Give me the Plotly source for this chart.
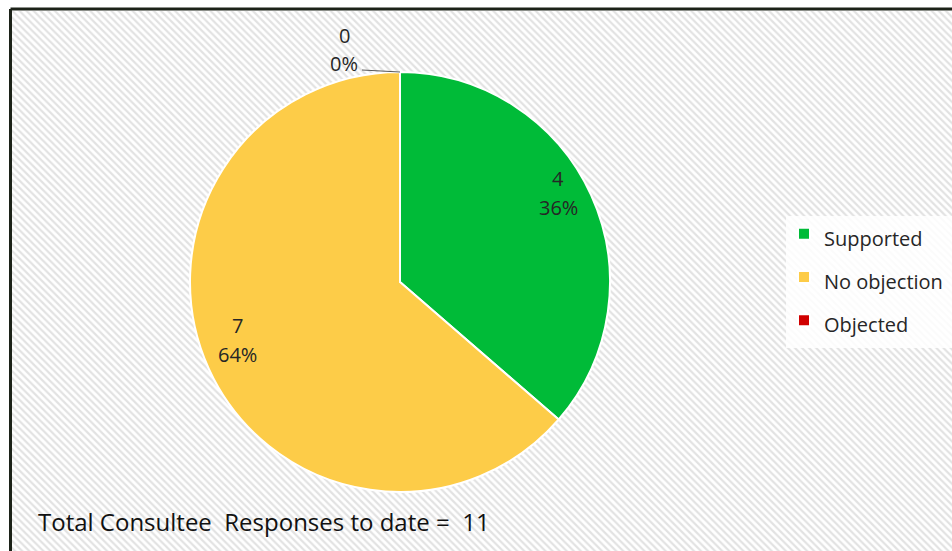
import math
import plotly.graph_objects as go

# ---- data ----
labels = ["Supported", "No objection", "Objected"]
values = [4, 7, 0]
colors = ["#00bb38", "#fdcc48", "#d00000"]
footer_prefix = "Total Consultee  Responses to date =  "

# ---- layout constants ----
W, H = 952, 551
CX, CY, R = 400, 282, 210
FONT = "Open Sans"
TXT = "#262626"

total = sum(values)
pct = [round(v / total * 100) for v in values]

def px_to_paper(px, py):
    return px / W, 1 - py / H

dom_x = [(CX - R) / W, (CX + R) / W]
dom_y = [1 - (CY + R) / H, 1 - (CY - R) / H]

fig = go.Figure()

# hatched background panel (decoration)
fig.add_trace(go.Bar(
    x=[0], y=[1], width=[1], xaxis="x", yaxis="y",
    marker=dict(color="white", line=dict(width=0),
                pattern=dict(shape="\\", fgcolor="#c6c6c6", bgcolor="white",
                             size=5, solidity=0.45)),
    showlegend=False, hoverinfo="skip",
))

fig.add_trace(go.Pie(
    labels=[f"<span style='font-size:20px'>{l}</span>" for l in labels],
    values=values, sort=False, direction="clockwise",
    rotation=0, marker=dict(colors=colors, line=dict(color="white", width=2)),
    textinfo="none", domain=dict(x=dom_x, y=dom_y),
    hovertemplate="%{value} (%{percent})<extra></extra>",
))

annotations = []
cum = 0
for lab, v, p in zip(labels, values, pct):
    start = cum / total * 360
    cum += v
    end = cum / total * 360
    if v > 0:
        mid = math.radians((start + end) / 2)
        rr = 0.84 * R
        ax_, ay_ = px_to_paper(CX + rr * math.sin(mid), CY - rr * math.cos(mid))
        for txt, ys in ((str(v), 30), (f"{p}%", 1)):
            annotations.append(dict(x=ax_, y=ay_, xref="paper", yref="paper",
                                    text=txt, showarrow=False, yshift=ys,
                                    xshift=-2, xanchor="center", yanchor="middle",
                                    font=dict(family=FONT, size=20, color=TXT)))
    else:
        ang = math.radians(start)
        tx, ty = px_to_paper(CX + R * math.sin(ang), CY - R * math.cos(ang))
        # leader line
        annotations.append(dict(x=tx, y=ty, xref="paper", yref="paper",
                                text=" ", showarrow=True, arrowhead=0,
                                arrowwidth=1, arrowcolor="#595959",
                                ax=-38, ay=-2, xanchor="right", yanchor="middle",
                                font=dict(family=FONT, size=1, color=TXT)))
        annotations.append(dict(x=tx, y=ty, xref="paper", yref="paper",
                                text=f"{p}%", showarrow=False,
                                xshift=-56, yshift=9, xanchor="center",
                                yanchor="middle",
                                font=dict(family=FONT, size=20, color=TXT)))
        annotations.append(dict(x=tx, y=ty, xref="paper", yref="paper",
                                text=str(v), showarrow=False,
                                xshift=-55, yshift=37, xanchor="center",
                                yanchor="middle",
                                font=dict(family=FONT, size=20, color=TXT)))

annotations.append(dict(x=36 / W, y=1 - 521 / H, xref="paper", yref="paper",
                        xanchor="left", yanchor="middle", showarrow=False,
                        text=f"{footer_prefix}{total}",
                        font=dict(family=FONT, size=24, color="#111111")))

shapes = [
    dict(type="rect", xref="paper", yref="paper", x0=786 / W, x1=1,
         y0=1 - 348 / H, y1=1 - 216 / H, fillcolor="rgba(255,255,255,0.85)",
         line=dict(width=0), layer="above"),
    dict(type="line", xref="paper", yref="paper", x0=10.5 / W, x1=1,
         y0=1 - 9 / H, y1=1 - 9 / H, line=dict(color="#1c2218", width=3)),
    dict(type="line", xref="paper", yref="paper", x0=10.5 / W, x1=10.5 / W,
         y0=0, y1=1 - 9 / H, line=dict(color="#1c2218", width=3)),
]

fig.update_layout(
    width=W, height=H, margin=dict(l=0, r=0, t=0, b=0),
    paper_bgcolor="white", plot_bgcolor="rgba(0,0,0,0)",
    xaxis=dict(domain=[12 / W, 1], range=[-0.5, 0.5], visible=False, fixedrange=True),
    yaxis=dict(domain=[0, 1 - 10.5 / H], range=[0, 1], visible=False, fixedrange=True),
    bargap=0,
    showlegend=True,
    legend=dict(x=784 / W, y=1 - 207 / H, xanchor="left", yanchor="top",
                bgcolor="rgba(0,0,0,0)", font=dict(family=FONT, size=31, color=TXT),
                traceorder="normal"),
    annotations=annotations, shapes=shapes,
)

fig.write_html("out.html")
